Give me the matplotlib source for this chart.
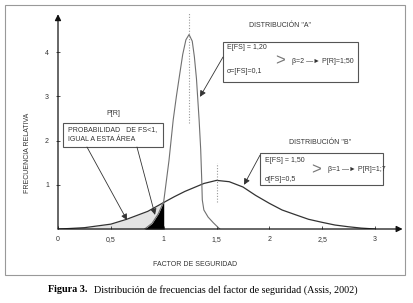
import numpy as np
import matplotlib
matplotlib.use('Agg')
import matplotlib.pyplot as plt
from matplotlib.patches import Rectangle

# --- data ---
x_ticks = [0, 0.5, 1, 1.5, 2, 2.5, 3]
x_tick_labels = ['0', '0,5', '1', '1,5', '2', '2,5', '3']
y_ticks = [1, 2, 3, 4]
y_tick_labels = ['1', '2', '3', '4']

# distribucion A (E[FS]=1,20 ; sigma=0,1) - schematic curve
fs_a = [0.82, 0.89, 0.95, 1.00, 1.05, 1.09, 1.12, 1.15, 1.18, 1.21, 1.24,
        1.27, 1.29, 1.31, 1.335, 1.35, 1.36, 1.365, 1.38, 1.42, 1.47, 1.53]
freq_a = [0.0, 0.13, 0.35, 0.62, 1.55, 2.47, 3.0, 3.48, 3.95, 4.28, 4.40,
          4.25, 3.90, 3.40, 2.47, 1.80, 1.10, 0.66, 0.43, 0.27, 0.14, 0.0]

# distribucion B (E[FS]=1,50 ; sigma=0,5)
fs_b = [0.0, 0.1, 0.25, 0.5, 0.65, 0.85, 1.0, 1.1, 1.2, 1.38, 1.5, 1.62,
        1.75, 1.87, 2.0, 2.12, 2.25, 2.37, 2.5, 2.62, 2.75, 2.87, 3.0]
freq_b = [0.0, 0.01, 0.03, 0.11, 0.22, 0.40, 0.60, 0.73, 0.85, 1.03, 1.10, 1.07,
          0.95, 0.76, 0.58, 0.43, 0.32, 0.22, 0.15, 0.09, 0.05, 0.02, 0.0]

mean_a_line = 1.24
mean_b_line = 1.5

# --- figure ---
W, H = 413, 303
fig = plt.figure(figsize=(W / 100, H / 100), dpi=100)
plt.rcParams['font.family'] = ['Liberation Sans', 'DejaVu Sans']

# pixel mapping: x=0 at px 58, 105.7 px/unit ; y=0 at py 229, 44.2 px/unit
x_max, y_max = 3.3, 4.9
ax = fig.add_axes([58 / W, (H - 229) / H, x_max * 105.7 / W, y_max * 44.2 / H])
ax.set_xlim(0, x_max)
ax.set_ylim(0, y_max)
for s in ax.spines.values():
    s.set_visible(False)

txt = '#333333'
ax.set_xticks(x_ticks)
ax.set_xticklabels(x_tick_labels)
ax.set_yticks(y_ticks)
ax.set_yticklabels(y_tick_labels)
ax.tick_params(axis='x', direction='in', length=2.5, width=0.6, pad=5,
               labelsize=5, colors=txt)
ax.tick_params(axis='y', direction='inout', length=3, width=0.6, pad=5,
               labelsize=5, colors=txt)

ax.set_xlabel('FACTOR DE SEGURIDAD', fontsize=5, color=txt)
ax.xaxis.set_label_coords(0.393, -0.15)
ax.set_ylabel('FRECUENCIA RELATIVA', fontsize=5, color=txt)
ax.yaxis.set_label_coords(-0.078, 0.35)

# axis arrows
arr = dict(arrowstyle='-|>', color='#111111', lw=0.9, mutation_scale=9,
           shrinkA=0, shrinkB=0)
ax.annotate('', xy=(3.26, 0), xytext=(0, 0), arrowprops=arr)
ax.annotate('', xy=(0, 4.86), xytext=(0, 0), arrowprops=arr)

# shaded areas
fs_b_arr = np.array(fs_b)
freq_b_arr = np.array(freq_b)
m = fs_b_arr <= 1.0
ax.fill_between(fs_b_arr[m], 0, freq_b_arr[m], color='#e4e4e4', lw=0)
fs_a_arr = np.array(fs_a)
freq_a_arr = np.array(freq_a)
m = fs_a_arr <= 1.0
ax.fill_between(fs_a_arr[m], 0, freq_a_arr[m], color='black', lw=0)

# curves
ax.plot(fs_b, freq_b, color='#333333', lw=0.9)
ax.plot(fs_a, freq_a, color='#707070', lw=0.8)

# mean lines (dotted)
ax.plot([mean_a_line, mean_a_line], [2.4, 4.9], color='#999999', lw=0.8,
        ls=(0, (1, 1.5)))
ax.plot([mean_b_line, mean_b_line], [0.6, 1.5], color='#999999', lw=0.8,
        ls=(0, (1, 1.5)))

# labels
ax.text(2.10, 4.615, 'DISTRIBUCIÓN "A"', fontsize=5, color=txt,
        ha='center', va='center')
ax.text(2.48, 1.946, 'DISTRIBUCIÓN "B"', fontsize=5, color=txt,
        ha='center', va='center')
ax.text(0.52, 2.62, 'P[R]', fontsize=5, color=txt, ha='center', va='center')

box_kw = dict(fill=False, edgecolor='#555555', lw=0.8)
# box A
ax.add_patch(Rectangle((1.561, 3.326), 1.277, 0.905, **box_kw))
ax.text(1.599, 4.10, 'E[FS] = 1,20', fontsize=5, color=txt, va='center')
ax.text(1.599, 3.56, 'σ=[FS]=0,1', fontsize=5, color=txt, va='center')
ax.text(2.10, 3.80, '>', fontsize=12, color='#777777', ha='center',
        va='center')
ax.text(2.21, 3.80, 'β=2 —► P[R]=1;50', fontsize=5, color=txt, va='center')

# box B
ax.add_patch(Rectangle((1.911, 0.995), 1.164, 0.724, **box_kw))
ax.text(1.958, 1.56, 'E[FS] = 1,50', fontsize=5, color=txt, va='center')
ax.text(1.958, 1.13, 'σ[FS]=0,5', fontsize=5, color=txt, va='center')
ax.text(2.44, 1.335, '>', fontsize=12, color='#777777', ha='center',
        va='center')
ax.text(2.55, 1.335, 'β=1 —► P[R]=1;7', fontsize=5, color=txt, va='center')

# box P[R]
ax.add_patch(Rectangle((0.047, 1.855), 0.946, 0.543, **box_kw))
ax.text(0.095, 2.24, 'PROBABILIDAD   DE FS<1,', fontsize=5, color=txt,
        va='center')
ax.text(0.095, 2.03, 'IGUAL A ESTA ÁREA', fontsize=5, color=txt, va='center')

# pointer arrows
parr = dict(arrowstyle='-|>', color='#333333', lw=0.6, mutation_scale=9,
            shrinkA=0, shrinkB=0)
ax.annotate('', xy=(1.343, 2.99), xytext=(1.561, 3.89), arrowprops=parr)
ax.annotate('', xy=(1.76, 1.0), xytext=(1.911, 1.67), arrowprops=parr)
ax.annotate('', xy=(0.653, 0.20), xytext=(0.274, 1.855), arrowprops=parr)
ax.annotate('', xy=(0.918, 0.32), xytext=(0.747, 1.855), arrowprops=parr)

# outer frame
fig.add_artist(Rectangle((5 / W, (H - 275) / H), 400 / W, 270 / H,
                         transform=fig.transFigure, fill=False,
                         edgecolor='#999999', lw=0.8))

# caption
renderer = fig.canvas.get_renderer()
t1 = fig.text(48 / W, (H - 290) / H, 'Figura 3.', fontsize=7.3,
              family='Liberation Serif', fontweight='bold', va='center')
bb = t1.get_window_extent(renderer=renderer)
fig.text(bb.x1 / W + 6 / W, (H - 290) / H,
         'Distribución de frecuencias del factor de seguridad (Assis, 2002)',
         fontsize=7.3, family='Liberation Serif', va='center')

fig.savefig('out.png', dpi=100)
